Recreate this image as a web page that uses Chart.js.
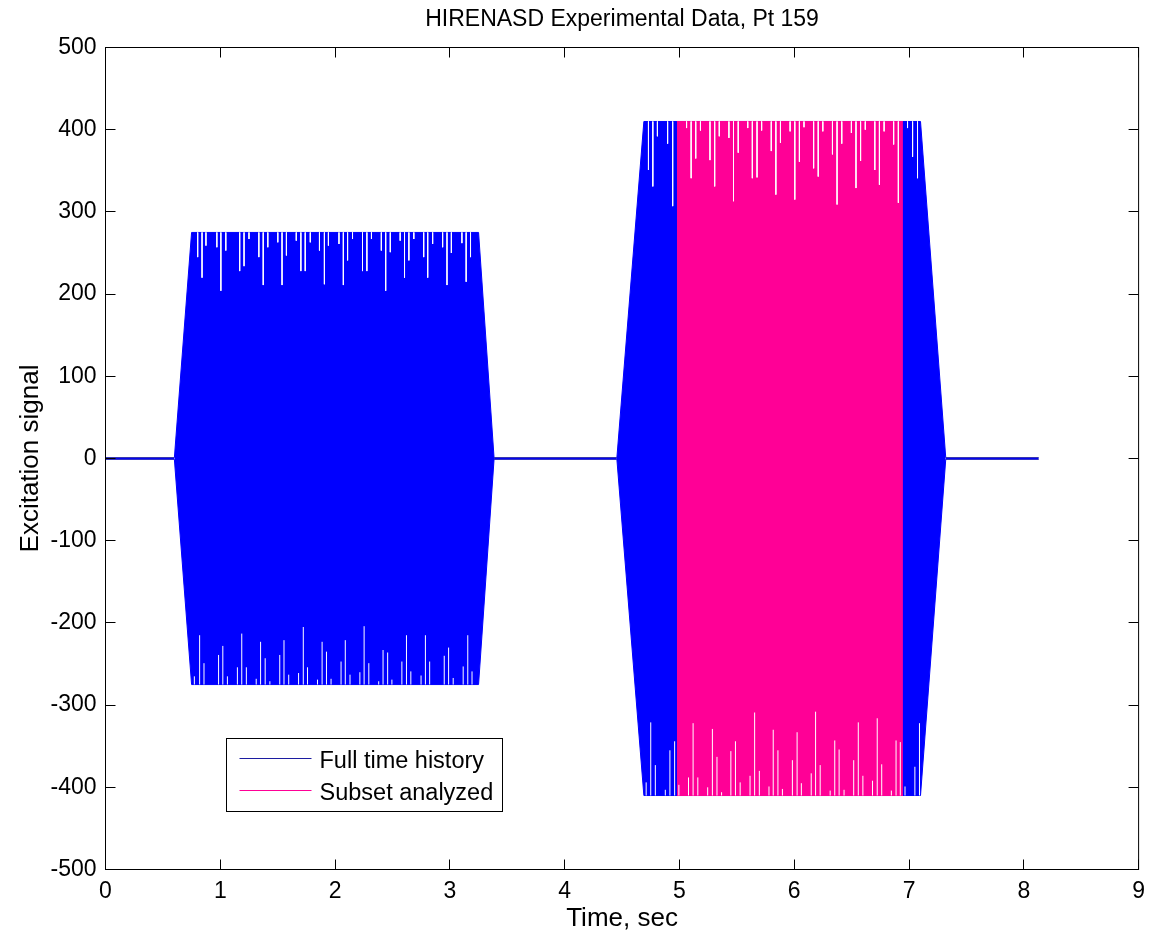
<!DOCTYPE html>
<html>
<head>
<meta charset="utf-8">
<title>HIRENASD Experimental Data, Pt 159</title>
<script src="https://cdn.jsdelivr.net/npm/chart.js@4.4.0/dist/chart.umd.min.js"></script>
<style>
  html, body { margin: 0; padding: 0; background: #fff; }
  canvas { display: block; }
</style>
</head>
<body>
<canvas id="excitationChart" width="1153" height="934"></canvas>
<script>
// axis ticks
const timeTicks = [0, 1, 2, 3, 4, 5, 6, 7, 8, 9];
const signalTicks = [-500, -400, -300, -200, -100, 0, 100, 200, 300, 400, 500];

// envelope of the full time history (sec, signal)
const envelopeTime  = [0.00, 0.60, 0.75, 3.25, 3.385, 4.455, 4.69, 7.10, 7.32, 8.13];
const envelopeUpper = [1, 1, 275, 275, 1, 1, 410, 410, 1, 1];
const envelopeLower = [-1, -1, -275, -275, -1, -1, -410, -410, -1, -1];

// analysed window
const subsetTime  = [4.978, 6.947];
const subsetUpper = [410, 410];
const subsetLower = [-410, -410];

// peaks that fall short of the envelope (aliased samples)
const burst1Peak = 275;
const burst1TopDipTime  = [0.803, 0.841, 0.875, 0.970, 1.005, 1.048, 1.169, 1.207, 1.250, 1.336, 1.374, 1.414, 1.501, 1.538, 1.576, 1.662, 1.702, 1.740, 1.784, 1.864, 1.907, 1.942, 2.034, 2.072, 2.109, 2.152, 2.239, 2.277, 2.317, 2.403, 2.441, 2.481, 2.567, 2.605, 2.643, 2.686, 2.772, 2.807, 2.850, 2.937, 2.975, 3.013, 3.105, 3.142, 3.180];
const burst1TopDipValue = [245, 220, 259, 257, 204, 253, 228, 234, 267, 245, 211, 257, 263, 211, 247, 265, 228, 228, 263, 253, 212, 259, 261, 211, 241, 267, 228, 228, 267, 253, 204, 251, 265, 220, 241, 267, 245, 220, 261, 257, 211, 250, 262, 215, 245];
const burst1BotDipTime  = [0.774, 0.820, 0.858, 0.985, 1.022, 1.062, 1.149, 1.187, 1.227, 1.313, 1.351, 1.391, 1.432, 1.518, 1.555, 1.596, 1.682, 1.723, 1.760, 1.847, 1.887, 1.925, 1.965, 2.052, 2.089, 2.130, 2.216, 2.253, 2.294, 2.380, 2.418, 2.458, 2.495, 2.582, 2.622, 2.660, 2.749, 2.787, 2.824, 2.951, 2.989, 3.029, 3.116, 3.156, 3.193];
const burst1BotDipValue = [-265, -215, -249, -239, -228, -265, -254, -213, -254, -268, -223, -243, -271, -239, -221, -263, -261, -205, -254, -269, -223, -235, -268, -247, -221, -263, -260, -204, -249, -271, -233, -236, -269, -247, -215, -259, -264, -215, -247, -240, -230, -267, -253, -215, -259];

const burst2Peak = 410;
const burst2TopDipTime  = [4.730, 4.768, 4.808, 4.897, 4.941, 5.062, 5.102, 5.142, 5.183, 5.266, 5.307, 5.347, 5.431, 5.471, 5.512, 5.595, 5.635, 5.676, 5.716, 5.800, 5.840, 5.880, 5.964, 6.005, 6.045, 6.085, 6.169, 6.209, 6.249, 6.333, 6.373, 6.414, 6.498, 6.538, 6.578, 6.619, 6.702, 6.742, 6.783, 6.866, 6.907, 6.987, 7.031, 7.074];
const burst2TopDipValue = [351, 331, 392, 383, 307, 402, 341, 365, 399, 363, 331, 392, 390, 313, 372, 402, 341, 342, 399, 374, 321, 384, 398, 315, 361, 403, 353, 343, 398, 370, 309, 383, 396, 329, 362, 400, 351, 333, 398, 382, 311, 402, 367, 341];
const burst2BotDipTime  = [4.710, 4.750, 4.790, 4.877, 4.917, 4.958, 4.995, 5.079, 5.119, 5.160, 5.246, 5.287, 5.327, 5.367, 5.448, 5.488, 5.529, 5.615, 5.655, 5.696, 5.780, 5.817, 5.858, 5.897, 5.984, 6.025, 6.062, 6.148, 6.186, 6.226, 6.313, 6.353, 6.391, 6.434, 6.518, 6.558, 6.598, 6.682, 6.723, 6.762, 6.846, 6.887, 6.924, 6.965, 7.051, 7.091];
const burst2BotDipValue = [-394, -321, -373, -403, -355, -344, -397, -388, -322, -388, -400, -329, -363, -406, -356, -344, -394, -386, -309, -380, -399, -330, -355, -402, -367, -333, -395, -383, -308, -373, -404, -343, -354, -403, -367, -321, -386, -392, -316, -372, -404, -343, -345, -399, -375, -322];

const fullColor = '#0000ff';
const quietColor = '#1c1ca0';
const subsetColor = '#ff0096';
const fontFamily = "'Liberation Sans', Arial, Helvetica, sans-serif";

function toPoints(xs, ys) {
  return xs.map((x, i) => ({ x: x, y: ys[i] }));
}

// each dip is a short vertical white stroke from the envelope edge to the peak value
function dipSegments(times, values, edge) {
  const pts = [];
  times.forEach((t, i) => {
    pts.push({ x: t, y: edge }, { x: t, y: values[i] }, { x: t, y: null });
  });
  return pts;
}

const dipPoints = [].concat(
  dipSegments(burst1TopDipTime, burst1TopDipValue, burst1Peak),
  dipSegments(burst1BotDipTime, burst1BotDipValue, -burst1Peak),
  dipSegments(burst2TopDipTime, burst2TopDipValue, burst2Peak),
  dipSegments(burst2BotDipTime, burst2BotDipValue, -burst2Peak)
).sort((a, b) => a.x - b.x);

// the flat stretches between bursts are only sensor noise, drawn darker
const quietSegment = {
  borderColor: ctx => (Math.abs(ctx.p0.parsed.y) < 5 && Math.abs(ctx.p1.parsed.y) < 5) ? quietColor : undefined
};

// box around the axes with inward tick marks on all four sides
const matlabAxes = {
  id: 'matlabAxes',
  afterDatasetsDraw(chart) {
    const { ctx, chartArea: a, scales: { x, y } } = chart;
    const tick = 10;
    ctx.save();
    ctx.strokeStyle = '#000';
    ctx.lineWidth = 1;
    ctx.beginPath();
    timeTicks.forEach(v => {
      const px = Math.round(x.getPixelForValue(v) - 0.5) + 0.5;
      ctx.moveTo(px, a.bottom); ctx.lineTo(px, a.bottom - tick);
      ctx.moveTo(px, a.top); ctx.lineTo(px, a.top + tick);
    });
    signalTicks.forEach(v => {
      const py = Math.round(y.getPixelForValue(v) - 0.5) + 0.5;
      ctx.moveTo(a.left, py); ctx.lineTo(a.left + tick, py);
      ctx.moveTo(a.right, py); ctx.lineTo(a.right - tick, py);
    });
    ctx.stroke();
    ctx.strokeRect(a.left, a.top, a.right - a.left, a.bottom - a.top);
    ctx.restore();
  }
};

// legend box drawn inside the plot, lower left
const boxLegend = {
  id: 'boxLegend',
  afterDraw(chart) {
    const { ctx, chartArea: a } = chart;
    const items = chart.data.datasets.filter(d => d.inLegend);
    const left = a.left + 121, top = a.top + 691;
    const w = 276, h = 73;
    ctx.save();
    ctx.fillStyle = '#fff';
    ctx.fillRect(left, top, w, h);
    ctx.strokeStyle = '#000';
    ctx.lineWidth = 1;
    ctx.strokeRect(left, top, w, h);
    ctx.font = '23.5px ' + fontFamily;
    ctx.textBaseline = 'alphabetic';
    items.forEach((d, i) => {
      const lineY = top + 20 + i * 32;
      ctx.strokeStyle = d.legendColor || d.borderColor;
      ctx.beginPath();
      ctx.moveTo(left + 13, lineY);
      ctx.lineTo(left + 85, lineY);
      ctx.stroke();
      ctx.fillStyle = '#000';
      ctx.fillText(d.label, left + 93, lineY + 9);
    });
    ctx.restore();
  }
};

Chart.defaults.font.family = fontFamily;
Chart.defaults.font.size = 23;
Chart.defaults.color = '#000';

new Chart(document.getElementById('excitationChart'), {
  type: 'line',
  data: {
    datasets: [
      {
        label: 'Full time history',
        inLegend: true,
        legendColor: quietColor,
        data: toPoints(envelopeTime, envelopeUpper),
        borderColor: fullColor,
        backgroundColor: fullColor,
        borderWidth: 1,
        pointRadius: 0,
        fill: '+1',
        segment: quietSegment,
        order: 2
      },
      {
        label: '',
        data: toPoints(envelopeTime, envelopeLower),
        borderColor: fullColor,
        borderWidth: 1,
        pointRadius: 0,
        fill: false,
        segment: quietSegment,
        order: 2
      },
      {
        label: 'Subset analyzed',
        inLegend: true,
        data: toPoints(subsetTime, subsetUpper),
        borderColor: subsetColor,
        backgroundColor: subsetColor,
        borderWidth: 1,
        pointRadius: 0,
        fill: '+1',
        order: 1
      },
      {
        label: '',
        data: toPoints(subsetTime, subsetLower),
        borderColor: subsetColor,
        borderWidth: 1,
        pointRadius: 0,
        fill: false,
        order: 1
      },
      {
        label: '',
        data: dipPoints,
        borderColor: '#ffffff',
        borderWidth: 1,
        pointRadius: 0,
        fill: false,
        spanGaps: false,
        order: 0
      }
    ]
  },
  options: {
    responsive: false,
    animation: false,
    devicePixelRatio: 1,
    events: [],
    layout: { padding: { left: 0, right: 6.5, top: 0, bottom: 0 } },
    plugins: {
      legend: { display: false },
      tooltip: { enabled: false },
      title: {
        display: true,
        fullSize: false,
        text: 'HIRENASD Experimental Data, Pt 159',
        font: { size: 23, weight: 'normal' },
        padding: { top: 6, bottom: 13.9 }
      }
    },
    scales: {
      x: {
        type: 'linear',
        min: 0,
        max: 9,
        grid: { display: false, drawTicks: false },
        border: { display: false },
        afterBuildTicks: scale => { scale.ticks = timeTicks.map(v => ({ value: v })); },
        afterFit: scale => { scale.height = 64.5; },
        ticks: { padding: 8, maxRotation: 0 },
        title: { display: true, text: 'Time, sec', font: { size: 26 }, padding: { top: 0, bottom: 0 } }
      },
      y: {
        type: 'linear',
        min: -500,
        max: 500,
        grid: { display: false, drawTicks: false },
        border: { display: false },
        afterBuildTicks: scale => { scale.ticks = signalTicks.map(v => ({ value: v })); },
        afterFit: scale => { scale.width = 105.5; },
        ticks: { padding: 9 },
        title: { display: true, text: 'Excitation signal', font: { size: 26 }, padding: { top: 15, bottom: 0 } }
      }
    }
  },
  plugins: [matlabAxes, boxLegend]
});
</script>
</body>
</html>
